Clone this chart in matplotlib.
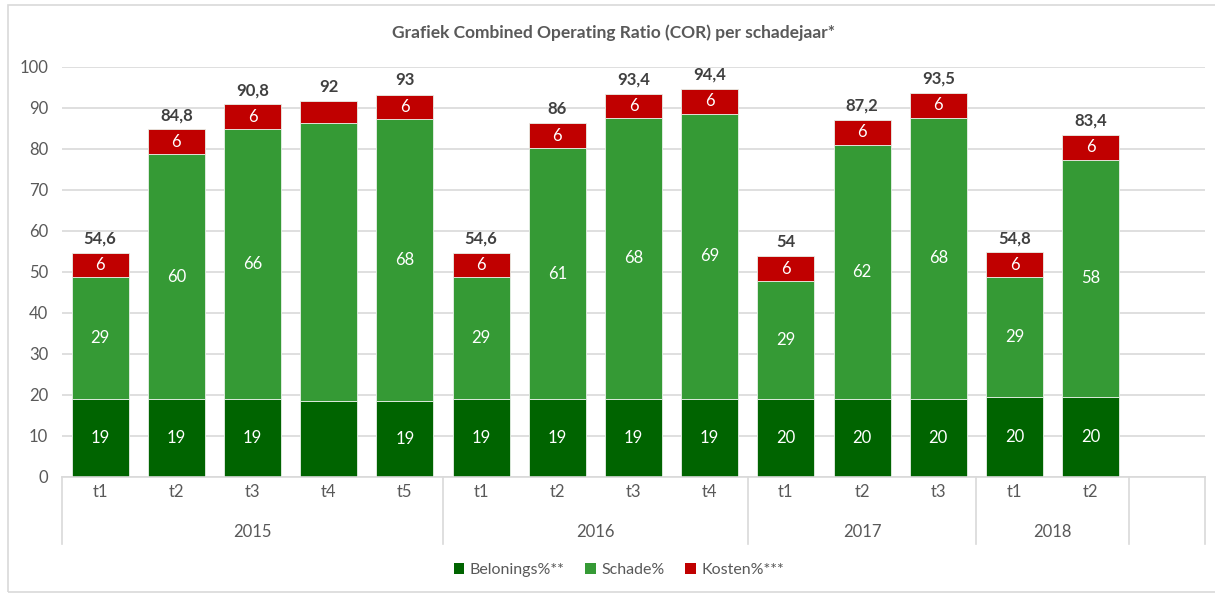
import matplotlib
matplotlib.use("Agg")
import matplotlib.pyplot as plt
from matplotlib.patches import Rectangle, Patch
from matplotlib.lines import Line2D
import matplotlib.transforms as mtransforms

# ---------------- data ----------------
periods = ["t1", "t2", "t3", "t4", "t5", "t1", "t2", "t3", "t4", "t1", "t2", "t3", "t1", "t2"]
years = ["2015", "2016", "2017", "2018"]
year_sizes = [5, 4, 3, 2]

belonings = [18.9, 18.9, 18.9, 18.5, 18.5, 18.9, 18.9, 18.9, 18.9, 18.9, 18.9, 18.9, 19.5, 19.5]
schade = [29.8, 59.7, 65.9, 67.8, 68.7, 29.8, 61.2, 68.7, 69.6, 28.8, 62.1, 68.7, 29.2, 57.8]
kosten = [5.8, 6.1, 6.0, 5.4, 6.0, 5.8, 6.1, 5.7, 6.1, 6.0, 6.0, 6.0, 6.0, 6.0]

belonings_labels = ["19", "19", "19", "", "19", "19", "19", "19", "19", "20", "20", "20", "20", "20"]
schade_labels = ["29", "60", "66", "", "68", "29", "61", "68", "69", "29", "62", "68", "29", "58"]
kosten_labels = ["6", "6", "6", "", "6", "6", "6", "6", "6", "6", "6", "6", "6", "6"]
total_labels = ["54,6", "84,8", "90,8", "92", "93", "54,6", "86", "93,4", "94,4",
                "54", "87,2", "93,5", "54,8", "83,4"]

series_names = ["Belonings%**", "Schade%", "Kosten%***"]
colors = ["#006400", "#359A35", "#C00000"]
title = "Grafiek Combined Operating Ratio (COR) per schadejaar*"
yticks = [0, 10, 20, 30, 40, 50, 60, 70, 80, 90, 100]

# ---------------- figure ----------------
plt.rcParams['font.family'] = ['Lato', 'DejaVu Sans']
W, H = 1215, 594
fig = plt.figure(figsize=(W / 100, H / 100), dpi=100)
fig.patch.set_facecolor("white")

# outer chart border
fig.add_artist(Rectangle((8 / W, 1 - 592 / H), (W + 5 - 8) / W, (592 - 5) / H,
                         transform=fig.transFigure, fill=False,
                         edgecolor="#D9D9D9", linewidth=1.2))

ax = fig.add_axes([62 / W, 1 - 476.5 / H, (1205 - 62) / W, (476.5 - 66.7) / H])
n_slots = len(periods) + 1
x = list(range(len(periods)))
ax.set_xlim(-0.5, n_slots - 0.5)
ax.set_ylim(0, 100)

gray_text = "#595959"
fs = 12
for s in ax.spines.values():
    s.set_visible(False)
ax.spines['bottom'].set_visible(True)
ax.spines['bottom'].set_color("#D9D9D9")
ax.spines['bottom'].set_linewidth(1.2)
ax.set_yticks(yticks)
ax.yaxis.grid(True, color="#D9D9D9", linewidth=1.2)
ax.set_axisbelow(True)
ax.tick_params(axis='y', length=0, labelsize=fs, labelcolor=gray_text, pad=10)
ax.tick_params(axis='x', length=0, labelbottom=False)
ax.set_xticks([])

bw = 0.75
bottoms = [0.0] * len(x)
label_sets = [belonings_labels, schade_labels, kosten_labels]
for vals, col, name, labs in zip([belonings, schade, kosten], colors, series_names, label_sets):
    ax.bar(x, vals, bw, bottom=bottoms, color=col, edgecolor="#E8F0E8",
           linewidth=0.6, label=name, zorder=2)
    for xi, b, v, lab in zip(x, bottoms, vals, labs):
        if lab:
            ax.text(xi, b + v / 2, lab, ha="center", va="center", color="white",
                    fontsize=fs, zorder=3)
    bottoms = [b + v for b, v in zip(bottoms, vals)]

for xi, top, lab in zip(x, bottoms, total_labels):
    ax.text(xi, top + 1.5, lab, ha="center", va="bottom", color="#404040",
            fontsize=fs, fontweight="bold", zorder=3)

# multi-level category axis
trans = mtransforms.blended_transform_factory(ax.transData, ax.transAxes)
axis_h = (476.5 - 66.7)
row1 = -(492 - 476.5) / axis_h
row2 = -(532 - 476.5) / axis_h
sep_bottom = -(544 - 476.5) / axis_h
for xi, p in zip(x, periods):
    ax.text(xi, row1, p, transform=trans, ha="center", va="center",
            color=gray_text, fontsize=fs)
start = 0
bounds = [-0.5]
for yr, size in zip(years, year_sizes):
    center = start + (size - 1) / 2
    ax.text(center, row2, yr, transform=trans, ha="center", va="center",
            color=gray_text, fontsize=fs)
    start += size
    bounds.append(start - 0.5)
bounds.append(n_slots - 0.5)
for bx in bounds:
    ax.add_line(Line2D([bx, bx], [0, sep_bottom], transform=trans, color="#D9D9D9",
                       linewidth=1.2, clip_on=False))

fig.text(614 / W, 1 - 33 / H, title, ha="center", va="center", color=gray_text,
         fontsize=12.5, fontweight="bold")

handles = [Patch(facecolor=c, edgecolor="none") for c in colors]
fig.legend(handles, series_names, loc="center", bbox_to_anchor=(619 / W, 1 - 570 / H),
           ncol=3, frameon=False, fontsize=11.5, labelcolor=gray_text,
           handlelength=0.65, handleheight=0.65, handletextpad=0.35, columnspacing=1.3)

fig.savefig("out.png", dpi=100, facecolor="white")
